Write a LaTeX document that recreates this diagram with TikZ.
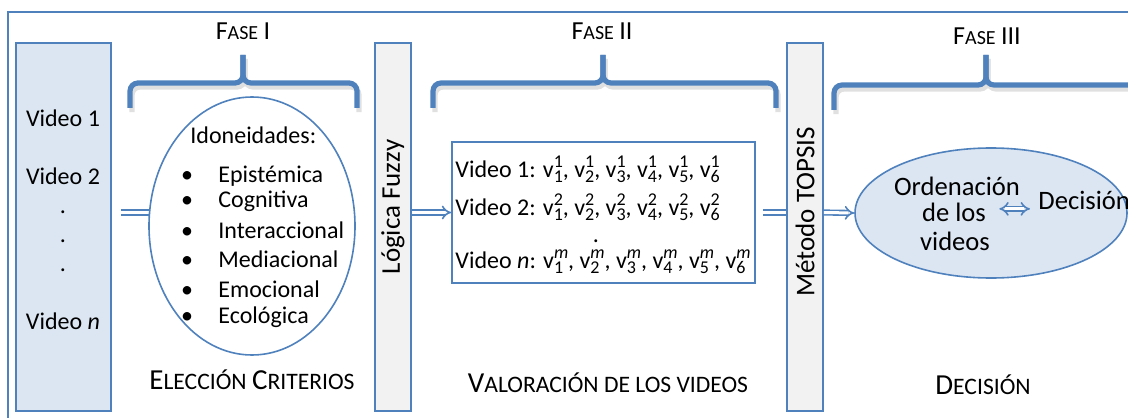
\documentclass[tikz,border=0pt]{standalone}
\usepackage{fontspec}
\setmainfont{Carlito}
\usetikzlibrary{arrows.meta,shapes.geometric}
\definecolor{frameblue}{RGB}{79,129,189}
\definecolor{paleblue}{RGB}{220,230,242}
\definecolor{palegray}{RGB}{242,242,242}
\pgfdeclarelayer{background}
\pgfsetlayers{background,main}
% fake small caps
\newcommand{\scbig}[1]{{\fontsize{13}{15}\selectfont #1}}
\newcommand{\scsml}[1]{{\fontsize{10}{12}\selectfont #1}}
\newcommand{\lbbig}[1]{{\fontsize{14.5}{16}\selectfont #1}}
\newcommand{\lbsml}[1]{{\fontsize{11.8}{13}\selectfont #1}}
\newcommand{\vval}[2]{v\rlap{\raisebox{-0.45ex}{\fontsize{9}{9}\selectfont #1}}\raisebox{0.8ex}{\fontsize{9}{9}\selectfont #2}}

\begin{document}
\begin{tikzpicture}[x=0.5pt,y=-0.5pt,
  every node/.style={font=\fontsize{12}{14.5}\selectfont, inner sep=0pt},
  brace/.style={frameblue, line width=2.6pt, rounded corners=4pt},
  braceshadow/.style={black!12, line width=2.6pt, rounded corners=4pt, shift={(2,4)}},
  hollow/.style={draw=frameblue, line width=0.8pt, double=white, double distance=1.5pt, -{Implies}},
  bar/.style={draw=frameblue, line width=0.8pt, fill=palegray, minimum width=18pt, minimum height=184pt},
  bartext/.style={rotate=90, font=\fontsize{13.5}{15}\selectfont}]
\useasboundingbox (0,0) rectangle (1128,417);

% frame
\draw[frameblue, line width=1pt] (1140,12) -- (8,12) -- (8,430);

% Fase I
\node[draw=frameblue, line width=0.8pt, fill=paleblue, minimum width=47.5pt, minimum height=184pt] (leftbox) at (63.5,227) {};
\node[align=center] (vidlist) at (63,220) {Video 1\\ ~\\ Video 2\\ .\\ .\\ .\\ ~\\ Video \textit{n}};
\node[ellipse, draw=frameblue, line width=0.8pt, fill=white, minimum width=103pt, minimum height=129pt] (critell) at (252,226) {};
\node[anchor=base west] (idon) at (190,143) {Idoneidades:};
\foreach \crit/\yb [count=\i] in {Epistémica/182, Cognitiva/207, Interaccional/238, Mediacional/267, Emocional/297, Ecológica/323}{
  \node[anchor=base] (bul\i) at (187,\yb) {\textbullet};
  \node[anchor=base west] (crit\i) at (218,\yb) {\crit};
}
\draw[braceshadow] (130,108) -- (130,83) -- (243,83) -- (243,55);
\draw[braceshadow] (243,55) -- (243,83) -- (357,83) -- (357,108);
\draw[brace] (130,108) -- (130,83) -- (243,83) -- (243,55);
\draw[brace] (243,55) -- (243,83) -- (357,83) -- (357,108);
\node[anchor=base] (fase1) at (243,40) {\scbig{F}\scsml{ASE} \scbig{I}};
\node[anchor=base] (lab1) at (252,389) {\lbbig{E}\lbsml{LECCIÓN} \lbbig{C}\lbsml{RITERIOS}};

% Logica Fuzzy
\node[bar] (fuzzybox) at (393,227) {};
\node[bartext] (fuzzytxt) at (393,207) {Lógica Fuzzy};

% Fase II
\node[draw=frameblue, line width=0.8pt, fill=white, minimum width=151.5pt, minimum height=70.5pt] (valbox) at (603.5,212.5) {};
\node[anchor=base west] (val1) at (455,177) {Video 1: \vval{1}{1}, \vval{2}{1}, \vval{3}{1}, \vval{4}{1}, \vval{5}{1}, \vval{6}{1}};
\node[anchor=base west] (val2) at (455,215) {Video 2: \vval{1}{2}, \vval{2}{2}, \vval{3}{2}, \vval{4}{2}, \vval{5}{2}, \vval{6}{2}};
\node[anchor=base] (valdots) at (596,242) {.};
\node[anchor=base west] (val3) at (455,268) {Video \textit{n}: \vval{1}{\textit{m}}, \vval{2}{\textit{m}}, \vval{3}{\textit{m}}, \vval{4}{\textit{m}}, \vval{5}{\textit{m}}, \vval{6}{\textit{m}}};
\draw[braceshadow] (433,108) -- (433,83) -- (603,83) -- (603,55);
\draw[braceshadow] (603,55) -- (603,83) -- (776,83) -- (776,108);
\draw[brace] (433,108) -- (433,83) -- (603,83) -- (603,55);
\draw[brace] (603,55) -- (603,83) -- (776,83) -- (776,108);
\node[anchor=base] (fase2) at (602,40) {\scbig{F}\scsml{ASE} \scbig{II}};
\node[anchor=base] (lab2) at (608,392) {\lbbig{V}\lbsml{ALORACIÓN DE LOS VIDEOS}};

% Metodo TOPSIS
\node[bar] (topsisbox) at (805,227) {};
\node[bartext] (topsistxt) at (805,212) {Método TOPSIS};

% Fase III
\node[ellipse, draw=frameblue, line width=0.8pt, fill=paleblue, minimum width=136pt, minimum height=65pt] (ordell) at (991,213) {};
\node[anchor=base, font=\fontsize{13.3}{15}\selectfont] (ord1) at (957,195) {Ordenación};
\node[anchor=base, font=\fontsize{13.3}{15}\selectfont] (ord2) at (954,221) {de los};
\node[anchor=base, font=\fontsize{13.3}{15}\selectfont] (ord3) at (955,250) {videos};
\node[anchor=base west, font=\fontsize{13.3}{15}\selectfont] (dec) at (1038,209) {Decisión};
\draw[braceshadow] (834,110) -- (834,85) -- (986,85) -- (986,55);
\draw[braceshadow] (986,55) -- (986,85) -- (1140,85);
\draw[brace] (834,110) -- (834,85) -- (986,85) -- (986,55);
\draw[brace] (986,55) -- (986,85) -- (1140,85);
\node[anchor=base] (fase3) at (987,45) {\scbig{F}\scsml{ASE} \scbig{III}};
\node[anchor=base] (lab3) at (983,394) {\lbbig{D}\lbsml{ECISIÓN}};

% arrows
\begin{pgfonlayer}{background}
\draw[hollow, shorten <=4.5pt] (leftbox.east |- valbox.west) -- (critell.center |- valbox.west);
\draw[hollow, shorten <=3.5pt] (valbox.east) -- (topsisbox.center |- valbox.east);
\end{pgfonlayer}
\draw[hollow] (fuzzybox.east |- valbox.west) -- (valbox.west);
\draw[hollow] (topsisbox.east |- valbox.east) -- (ordell.west);
\draw[hollow, {Implies}-{Implies}] ([xshift=6.5pt,yshift=1.5pt]ord2.east) -- ([xshift=-4pt,yshift=1.5pt]ord2.east -| dec.west);
\end{tikzpicture}
\end{document}
